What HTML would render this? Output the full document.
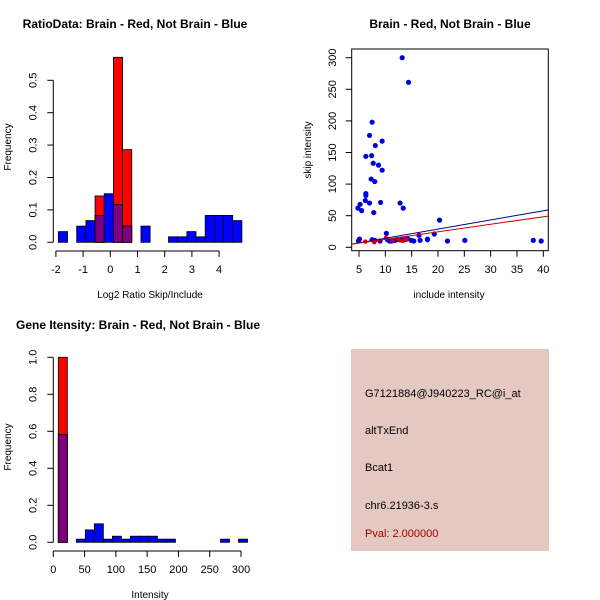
<!DOCTYPE html>
<html><head><meta charset="utf-8"><style>
html,body{margin:0;padding:0;background:#fff;}
svg{display:block;font-family:"Liberation Sans",sans-serif;}
</style></head><body>
<svg id="s" width="600" height="600" xmlns="http://www.w3.org/2000/svg">
<rect x="0" y="0" width="600" height="600" fill="#fff"/>
<g id="p1"></g>
<g id="p2"></g>
<g id="p3"></g>
<g id="p4">
<rect x="351" y="349" width="198" height="202" fill="#e6c8c2"/>
<text x="365" y="397" font-size="11" fill="#000">G7121884@J940223_RC@i_at</text>
<text x="365" y="434" font-size="11" fill="#000">altTxEnd</text>
<text x="365" y="471" font-size="11" fill="#000">Bcat1</text>
<text x="365" y="509" font-size="11" fill="#000">chr6.21936-3.s</text>
<text x="365" y="537" font-size="11" fill="#a00000">Pval: 2.000000</text>
</g>
</svg>
<script>
// Chart 1: ratio histogram
const ratioStart = -1.91, ratioBinW = 0.3374;
const ratioRed = [0,0,0,0,0.143,0,0.571,0.286,0,0,0,0,0,0,0,0,0,0,0,0];
const ratioBlue = [0.033,0,0.05,0.067,0.083,0.15,0.117,0.05,0,0.05,0,0,0.017,0.017,0.033,0.017,0.083,0.083,0.083,0.067];
const ratioXTicks = [-2,-1,0,1,2,3,4];
const ratioYTicks = [0,0.1,0.2,0.3,0.4,0.5];
// Chart 2: scatter
const scatX = [13.2,14.4,7.5,7.0,9.4,8.1,6.3,7.4,7.7,8.7,9.4,7.3,8.0,6.3,6.3,6.2,7.0,9.1,12.8,13.4,5.2,4.8,5.5,7.8,20.3,10.2,19.3,16.4,5.1,4.9,7.5,8.0,10.4,10.8,11.8,12.8,13.7,14.9,15.4,16.6,18.0,18.0,21.8,25.1,38.1,39.6,11.2,12.2,13.1,9.0,14.2];
const scatY = [300,261,198,177,168,161,144,145,133,130,122,108,104,85,82,74,70,71,70,62,68,62,58,55,43,22,21,19,13,10,12,11,12,10,11,12,12,11,10,11,12,13,10,11,11,10,10,12,13,10,14];
const redX = [6.2,7.9,10.1,11.4,12.5,13.3,14.0];
const redY = [9,8,15,11,13,10,12];
const blueFit = [-0.2,1.45];
const redFit = [0.7,1.19];
const scatXTicks = [5,10,15,20,25,30,35,40];
const scatYTicks = [0,50,100,150,200,250,300];
// Chart 3: intensity histogram
const intStart = 8, intBinW = 14.4;
const intRed = [1.0];
const intBlue = [0.583,0,0.017,0.067,0.1,0.017,0.033,0.017,0.033,0.033,0.033,0.017,0.017,0,0,0,0,0,0.017,0,0.017];
const intXTicks = [0,50,100,150,200,250,300];
const intYTicks = [0,0.2,0.4,0.6,0.8,1.0];

const NS="http://www.w3.org/2000/svg";
function mk(parent,tag,attrs){const e=document.createElementNS(NS,tag);for(const k in attrs)e.setAttribute(k,attrs[k]);parent.appendChild(e);return e;}
function txt(parent,x,y,s,size,extra){const t=mk(parent,'text',Object.assign({x:x,y:y,'font-size':size,'text-anchor':'middle',fill:'#000'},extra||{}));t.textContent=s;return t;}

function histogram(g,cfg){
  const sx=v=>cfg.x0+v*cfg.kx, sy=v=>cfg.y0-v*cfg.ky;
  const n=Math.max(cfg.red.length,cfg.blue.length);
  for(let i=0;i<n;i++){
    const r=cfg.red[i]||0,b=cfg.blue[i]||0;
    const xa=sx(cfg.start+i*cfg.bw), xb=sx(cfg.start+(i+1)*cfg.bw);
    if(r>0){const e=mk(g,'rect',{x:xa,y:sy(r),width:xb-xa,height:sy(0)-sy(r),fill:'#ff0000',stroke:'#000','stroke-width':0.8});
      }
    if(b>0){const ov=Math.min(r,b);
      const e=mk(g,'rect',{x:xa,y:sy(b),width:xb-xa,height:sy(0)-sy(b),fill:'#0000ff',stroke:'#000','stroke-width':0.8});
      
      if(ov>0){const p=mk(g,'rect',{x:xa,y:sy(ov),width:xb-xa,height:sy(0)-sy(ov),fill:'#7f007f',stroke:'#000','stroke-width':0.8});
        }
    }
  }
  axes(g,cfg,sx,sy);
}
function axes(g,cfg,sx,sy){
  const xt=cfg.xticks,yt=cfg.yticks;
  const xa=mk(g,'g',{});
  mk(xa,'line',{x1:sx(xt[0]),x2:sx(xt[xt.length-1]),y1:cfg.xaxisY,y2:cfg.xaxisY,stroke:'#000'});
  xt.forEach(v=>{mk(xa,'line',{x1:sx(v),x2:sx(v),y1:cfg.xaxisY,y2:cfg.xaxisY+6,stroke:'#000'});
    const t=txt(xa,sx(v),cfg.xaxisY+22,String(v),11);});
  const ya=mk(g,'g',{});
  mk(ya,'line',{x1:cfg.yaxisX,x2:cfg.yaxisX,y1:sy(yt[0]),y2:sy(yt[yt.length-1]),stroke:'#000'});
  yt.forEach(v=>{mk(ya,'line',{x1:cfg.yaxisX,x2:cfg.yaxisX-6,y1:sy(v),y2:sy(v),stroke:'#000'});
    const lx=cfg.yaxisX-17;const t=txt(ya,lx,sy(v),cfg.yfmt(v),11,{transform:`rotate(-90 ${lx} ${sy(v)})`});
    });
  let t=txt(g,cfg.titleX,cfg.titleY,cfg.title,12,{'font-weight':'bold'});
  t=txt(g,cfg.xlabX,cfg.xlabY,cfg.xlab,10);
  t=txt(g,cfg.ylabX,cfg.ylabY,cfg.ylab,10,{transform:`rotate(-90 ${cfg.ylabX} ${cfg.ylabY})`});
}

histogram(document.getElementById('p1'),{x0:110.3,kx:27.2,y0:242.3,ky:324,start:ratioStart,bw:ratioBinW,red:ratioRed,blue:ratioBlue,
  xticks:ratioXTicks,yticks:ratioYTicks,xaxisY:251,yaxisX:53.3,yfmt:v=>v.toFixed(1),
  title:'RatioData: Brain - Red, Not Brain - Blue',titleX:135,titleY:28,xlab:'Log2 Ratio Skip/Include',xlabX:150,xlabY:298,ylab:'Frequency',ylabX:11,ylabY:147});

histogram(document.getElementById('p3'),{x0:53.3,kx:0.6257,y0:542.3,ky:185,start:intStart,bw:intBinW,red:intRed,blue:intBlue,
  xticks:intXTicks,yticks:intYTicks,xaxisY:551,yaxisX:53.3,yfmt:v=>v.toFixed(1),
  title:'Gene Itensity: Brain - Red, Not Brain - Blue',titleX:138,titleY:329,xlab:'Intensity',xlabX:150,xlabY:598,ylab:'Frequency',ylabX:11,ylabY:447});

// scatter
(function(){
  const g=document.getElementById('p2');
  const sx=v=>359+(v-5)*5.266, sy=v=>247.3-v*0.632;
  const box=mk(g,'rect',{x:351.7,y:49,width:196.6,height:201.7,fill:'none',stroke:'#000'});
  
  scatX.forEach((x,i)=>{const c=mk(g,'circle',{cx:sx(x),cy:sy(scatY[i]),r:2.6,fill:'#0000dd'});
    });
  redX.forEach((x,i)=>{const c=mk(g,'circle',{cx:sx(x),cy:sy(redY[i]),r:2.2,fill:'#dd0000'});
    });
  const xa=3.6,xb=40.9;
  let l=mk(g,'line',{x1:sx(xa),y1:sy(blueFit[0]+blueFit[1]*xa),x2:sx(xb),y2:sy(blueFit[0]+blueFit[1]*xb),stroke:'#00008b'});
  
  l=mk(g,'line',{x1:sx(xa),y1:sy(redFit[0]+redFit[1]*xa),x2:sx(xb),y2:sy(redFit[0]+redFit[1]*xb),stroke:'#cc0000'});
  
  scatXTicks.forEach(v=>{mk(g,'line',{x1:sx(v),x2:sx(v),y1:250.7,y2:256.7,stroke:'#000'});
    const t=txt(g,sx(v),273,String(v),11);});
  scatYTicks.forEach(v=>{mk(g,'line',{x1:351.7,x2:345.7,y1:sy(v),y2:sy(v),stroke:'#000'});
    const lx=336;const t=txt(g,lx,sy(v),String(v),11,{transform:`rotate(-90 ${lx} ${sy(v)})`});
    });
  let t=txt(g,450,28,'Brain - Red, Not Brain - Blue',12,{'font-weight':'bold'});
  t=txt(g,449,298,'include intensity',10);
  t=txt(g,311,150,'skip intensity',10,{transform:'rotate(-90 311 150)'});
})();
</script>
</body></html>
